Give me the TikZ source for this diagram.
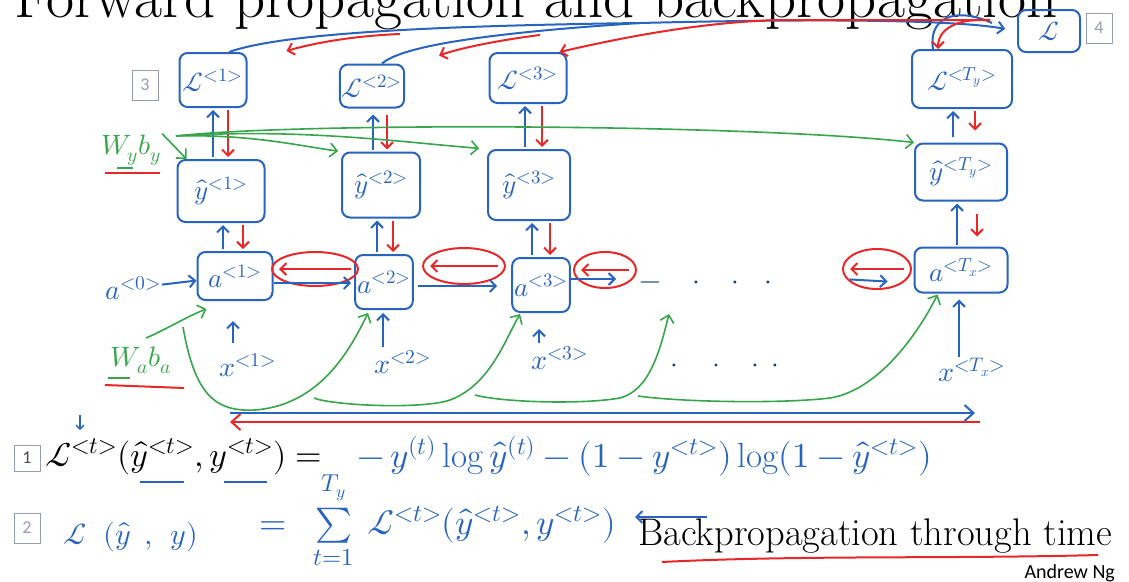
\documentclass[tikz,border=0pt]{standalone}
\usepackage{amsmath}
\usepackage{unicode-math}
\newfontfamily\andrewfont{Carlito}
\usetikzlibrary{arrows.meta,shapes.geometric}
\definecolor{inkblue}{RGB}{40,100,190}
\definecolor{inkred}{RGB}{232,40,40}
\definecolor{inkgreen}{RGB}{55,165,75}
\definecolor{slidegray}{RGB}{150,155,180}

\begin{document}
\begin{tikzpicture}[x=1pt, y=-1pt,
    cell/.style={rectangle, draw=inkblue, line width=2pt, rounded corners=8pt, text=inkblue, inner sep=2pt, font=\fontsize{27}{30}\selectfont},
    hand/.style={text=inkblue, inner sep=1pt, font=\fontsize{28}{32}\selectfont},
    param/.style={text=inkgreen, inner sep=1pt, font=\fontsize{28}{32}\selectfont},
    slidenum/.style={rectangle, draw=slidegray, line width=1pt, text=slidegray, minimum width=26pt, minimum height=30pt, inner sep=0pt, font=\andrewfont\fontsize{18}{20}\selectfont},
    ring/.style={ellipse, draw=inkred, line width=2pt, inner sep=0pt},
    fwdarrow/.style={-{Straight Barb[length=6pt,width=12pt]}, inkblue, line width=2pt},
    bwdarrow/.style={-{Straight Barb[length=6pt,width=12pt]}, inkred, line width=2pt},
    paramarrow/.style={-{Straight Barb[length=7pt,width=14pt]}, inkgreen, line width=1.6pt}
]
\useasboundingbox (0,0) rectangle (1129,581);
\clip (0,0) rectangle (1129,581);

% Titre
\node[anchor=base west, inner sep=0pt, font=\fontsize{61}{66}\selectfont] (title) at (14,17) {Forward propagation and backpropagation};

% Pertes
\node[cell, minimum width=67, minimum height=54] (L1) at (213,80) {$\mathcal{L}^{<1>}$};
\node[cell, minimum width=63, minimum height=43] (L2) at (372,86) {$\mathcal{L}^{<2>}$};
\node[cell, minimum width=77, minimum height=50] (L3) at (528,78) {$\mathcal{L}^{<3>}$};
\node[cell, minimum width=100, minimum height=58] (LT) at (962,79) {$\mathcal{L}^{<T_y>}$};
\node[cell, minimum width=62, minimum height=42] (Ltot) at (1049,31) {$\mathcal{L}$};

% Sorties
\node[cell, minimum width=87, minimum height=62] (yh1) at (221,191) {$\hat{y}^{<1>}$};
\node[cell, minimum width=78, minimum height=65] (yh2) at (381,185) {$\hat{y}^{<2>}$};
\node[cell, minimum width=82, minimum height=70] (yh3) at (529,185) {$\hat{y}^{<3>}$};
\node[cell, minimum width=92, minimum height=57] (yh4) at (961,172) {$\hat{y}^{<T_y>}$};

% Activations
\node[cell, minimum width=75, minimum height=48] (a1) at (235,276) {$a^{<1>}$};
\node[cell, minimum width=55, minimum height=54] (a2) at (384,282) {$a^{<2>}$};
\node[cell, minimum width=57, minimum height=54] (a3) at (541,285) {$a^{<3>}$};
\node[cell, minimum width=93, minimum height=45] (a4) at (961,270) {$a^{<T_x>}$};
\node[hand] (a0) at (133,288) {$a^{<0>}$};

% Entrees
\node[hand] (x1) at (248,365) {$x^{<1>}$};
\node[hand] (x2) at (403,362) {$x^{<2>}$};
\node[hand] (x3) at (560,358) {$x^{<3>}$};
\node[hand] (x4) at (972,370) {$x^{<T_x>}$};
\node[hand, text=inkblue!60!black] (dots1) at (706,285) {$-\mkern16mu\cdot\mkern16mu\cdot\mkern16mu\cdot$};
\node[hand, text=inkblue!60!black] (dots2) at (725,368) {$\cdot\mkern18mu\cdot\mkern16mu\cdot\mkern8mu\cdot$};

% Parametres
\node[param] (Wy) at (131,150) {$W_y b_y$};
\node[param] (Wa) at (141,360) {$W_a b_a$};
\draw[inkred, line width=2pt] (105,173) -- (160,173);
\draw[inkgreen, line width=1.6pt] (117,168) -- (133,168);
\draw[inkred, line width=2pt] (105,385) -- (184,388);
\draw[inkgreen, line width=1.6pt] (108,378) -- (130,378);

% Numeros
\node[slidenum] (n3) at (145,85) {3};
\node[slidenum] (n4) at (1099,28) {4};
\node[slidenum, text=black!70, minimum height=26pt] (n1) at (27,458) {1};
\node[slidenum] (n2) at (27,528) {2};

% Boucles
\node[ring, minimum width=86, minimum height=34] (e1) at (315,269) {};
\node[ring, minimum width=82, minimum height=36] (e2) at (464,266) {};
\node[ring, minimum width=62, minimum height=36] (e3) at (605,270) {};
\node[ring, minimum width=68, minimum height=40] (e4) at (877,269) {};

% Propagation avant
\draw[fwdarrow] (a0) -- (a1);
\draw[fwdarrow, shorten >=3] (a1.east |- 0,283) -- (a2.west |- 0,283);
\draw[fwdarrow, shorten <=4, shorten >=14] (a2.east |- 0,286) -- (a3.west |- 0,286);
\coordinate (a3out) at (616,279);
\draw[fwdarrow] (a3.east |- 0,279) -- (a3out);
\draw[fwdarrow, shorten <=8, shorten >=26] (e4.west |- 0,279) -- (a4.west |- 0,283);
\draw[fwdarrow, shorten <=2, shorten >=2] (223,0 |- a1.north) -- (223,0 |- yh1.south);
\draw[fwdarrow, shorten <=2, shorten >=2] (377,0 |- a2.north) -- (377,0 |- yh2.south);
\draw[fwdarrow, shorten <=2, shorten >=2] (532,0 |- a3.north) -- (532,0 |- yh3.south);
\draw[fwdarrow, shorten <=2, shorten >=2] (957,0 |- a4.north) -- (957,0 |- yh4.south);
\draw[fwdarrow, shorten <=2, shorten >=2] (213,0 |- yh1.north) -- (213,0 |- L1.south);
\draw[fwdarrow, shorten <=2, shorten >=6] (373,0 |- yh2.north) -- (373,0 |- L2.south);
\draw[fwdarrow, shorten <=2, shorten >=2] (525,0 |- yh3.north) -- (525,0 |- L3.south);
\draw[fwdarrow, shorten <=6, shorten >=2] (953,0 |- yh4.north) -- (953,0 |- LT.south);
\draw[fwdarrow, shorten <=9, shorten >=20] (233,0 |- x1.north) -- (233,0 |- a1.south);
\draw[fwdarrow, shorten <=2, shorten >=3] (383,0 |- x2.north) -- (383,0 |- a2.south);
\draw[fwdarrow, shorten <=2, shorten >=16] (539,0 |- x3.north) -- (539,0 |- a3.south);
\draw[fwdarrow, shorten <=0, shorten >=6] (959,0 |- x4.north) -- (959,0 |- a4.south);

% Vers la perte totale
\coordinate (jn) at (640,23);
\draw[inkblue, line width=2pt] ([xshift=16]L1.north) .. controls (280,34) and (420,26) .. (jn);
\draw[inkblue, line width=2pt] ([xshift=10]L2.north) .. controls (400,48) and (470,34) .. (jn);
\draw[fwdarrow, shorten >=12] (jn) .. controls (800,19) and (950,19) .. (Ltot.west);
\coordinate (jn2) at (992,23);
\draw[inkblue, line width=2pt] ([xshift=-29]LT.north) .. controls (928,18) and (955,6) .. (jn2);

% Retropropagation
\coordinate (rsrc) at (990,20);
\draw[bwdarrow] (rsrc) -- (780,20) .. controls (700,22) and (620,38) .. ([xshift=-8]L3.north east);
\draw[bwdarrow] (rsrc) .. controls (955,18) and (938,30) .. ([xshift=-24]LT.north);
\coordinate (r2) at (540,35);
\draw[bwdarrow] (r2) .. controls (500,40) and (460,48) .. ([shift={(34,-8)}]L2.north east);
\coordinate (r1) at (400,34);
\draw[bwdarrow] (r1) .. controls (350,36) and (310,44) .. ([shift={(39,-1)}]L1.north east);
\draw[bwdarrow, shorten <=2, shorten >=2] (228,0 |- L1.south) -- (228,0 |- yh1.north);
\draw[bwdarrow, shorten <=6, shorten >=2] (387,0 |- L2.south) -- (387,0 |- yh2.north);
\draw[bwdarrow, shorten <=2, shorten >=2] (542,0 |- L3.south) -- (542,0 |- yh3.north);
\draw[bwdarrow, shorten <=2, shorten >=12] (975,0 |- LT.south) -- (975,0 |- yh4.north);
\draw[bwdarrow, shorten <=2, shorten >=2] (243,0 |- yh1.south) -- (243,0 |- a1.north);
\draw[bwdarrow, shorten <=2, shorten >=2] (393,0 |- yh2.south) -- (393,0 |- a2.north);
\draw[bwdarrow, shorten <=2, shorten >=2] (550,0 |- yh3.south) -- (550,0 |- a3.north);
\draw[bwdarrow, shorten <=12, shorten >=10] (977,0 |- yh4.south) -- (977,0 |- a4.north);
\draw[bwdarrow] ([xshift=-8]e1.east) -- ([xshift=8]e1.west);
\draw[bwdarrow] ([xshift=-8]e2.east) -- ([xshift=8]e2.west);
\draw[bwdarrow] ([xshift=-8]e3.east) -- ([xshift=8]e3.west);
\draw[bwdarrow] ([xshift=-8]e4.east) -- ([xshift=8]e4.west);

% Partage des parametres
\coordinate (wyo) at (176,136);
\draw[paramarrow] (Wy.north east) -- ([xshift=10]yh1.north west);
\draw[paramarrow, shorten >=3] (wyo) .. controls (250,134) and (300,146) .. (yh2.north west);
\draw[paramarrow, shorten >=8] (wyo) .. controls (300,128) and (400,142) .. (yh3.north west);
\draw[paramarrow] (wyo) .. controls (300,122) and (750,124) .. (yh4.north west);
\coordinate (wao) at (146,338);
\coordinate (wab2) at (183,327);
\coordinate (wab3) at (314,398);
\coordinate (wab4) at (475,395);
\coordinate (wab5) at (638,396);
\coordinate (adots) at (669,314);
\draw[paramarrow] (wao) .. controls (165,330) and (190,315) .. ([shift={(10,8)}]a1.south west);
\draw[paramarrow] (wab2) .. controls (195,395) and (215,412) .. (255,410) .. controls (320,405) and (350,350) .. ([shift={(-16,3)}]a2.south);
\draw[paramarrow] (wab3) .. controls (330,405) and (420,410) .. (450,400) .. controls (490,385) and (505,340) .. ([shift={(-21,1)}]a3.south);
\draw[paramarrow] (wab4) .. controls (500,402) and (580,405) .. (620,398) .. controls (650,390) and (660,350) .. (adots);
\draw[paramarrow] (wab5) .. controls (680,402) and (780,404) .. (830,398) .. controls (880,390) and (920,330) .. ([shift={(24,1)}]a4.south west);

% A travers le temps
\coordinate (tl) at (230,413);
\coordinate (tr) at (975,413);
\coordinate (bl) at (230,422);
\coordinate (br) at (980,422);
\draw[fwdarrow, -{Straight Barb[length=9pt,width=16pt]}] (tl) -- (tr);
\draw[bwdarrow, -{Straight Barb[length=9pt,width=16pt]}] (br) -- (bl);

% Formules
\node[anchor=base west, inner sep=0pt, font=\fontsize{34}{38}\selectfont] (eq1) at (45,466) {$\mathcal{L}^{<t>}(\hat{y}^{<t>},y^{<t>}) =$};
\node[hand, anchor=base west, font=\fontsize{35}{38}\selectfont] (eq1r) at (356,467) {$-\,y^{(t)}\log\hat{y}^{(t)} - (1-y^{<t>})\log(1-\hat{y}^{<t>})$};
\draw[fwdarrow, -{Straight Barb[length=4pt,width=8pt]}, line width=1.4pt] (80,415) -- (80,430);
\draw[inkblue, line width=1.6pt] (140,482) -- (184,482);
\draw[inkblue, line width=1.6pt] (224,482) -- (267,482);
\node[hand, font=\fontsize{30}{34}\selectfont] (lhs) at (131,537) {$\mathcal{L}\mkern10mu(\hat{y}\mkern8mu,\mkern8mu y)$};
\node[hand, anchor=west, font=\fontsize{35}{38}\selectfont] (rhs) at (258,520) {$=\mkern9mu\sum\limits_{t=1}^{T_y}\mkern4mu\mathcal{L}^{<t>}(\hat{y}^{<t>},y^{<t>})$};
\node[anchor=base west, inner sep=0pt, font=\fontsize{38.5}{42}\selectfont] (bptt) at (638,545) {Backpropagation through time};
\coordinate (bpa) at (707,517);
\draw[fwdarrow, shorten >=18] (bpa) -- (bpa -| rhs.east);
\draw[inkred, line width=2pt] (662,562) .. controls (800,555) and (950,559) .. (1098,555);
\node[anchor=base east, inner sep=0pt, font=\andrewfont\fontsize{20}{24}\selectfont] (author) at (1115,578) {Andrew Ng};

\end{tikzpicture}
\end{document}
